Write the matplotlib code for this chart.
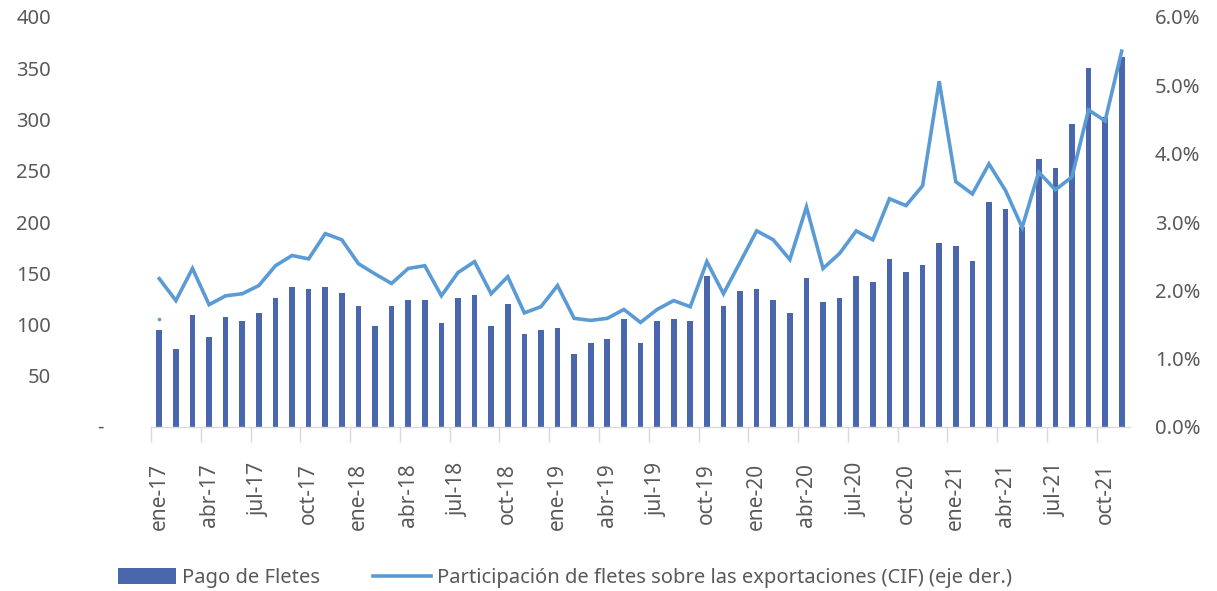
import matplotlib
matplotlib.use("Agg")
import matplotlib.pyplot as plt
import numpy as np

plt.rcParams['font.family'] = ['Noto Sans', 'DejaVu Sans']

meses = ["ene", "feb", "mar", "abr", "may", "jun", "jul", "ago", "sep", "oct", "nov", "dic"]
categorias = [f"{m}-{a}" for a in range(17, 22) for m in meses][:59]

pago_fletes = [
    94.6, 75.8, 109.6, 88.1, 107.3, 103.1, 111.5, 126.1, 136.9, 134.6, 136.9, 130.4,
    118.0, 98.8, 118.0, 124.2, 124.2, 101.2, 126.1, 128.5, 98.8, 120.0, 90.4, 94.6,
    96.6, 71.2, 82.0, 86.2, 105.1, 82.0, 103.1, 105.1, 103.1, 147.3, 118.0, 132.7,
    134.6, 123.9, 111.5, 145.4, 122.0, 126.1, 147.3, 141.2, 164.2, 151.5, 158.0, 179.2,
    176.9, 162.0, 219.2, 212.7, 195.4, 261.5, 253.0, 295.3, 350.0, 302.7, 360.7,
]

participacion = [
    2.17, 1.85, 2.32, 1.79, 1.92, 1.95, 2.07, 2.36, 2.51, 2.46, 2.83, 2.74,
    2.39, 2.24, 2.10, 2.32, 2.36, 1.92, 2.26, 2.42, 1.95, 2.20, 1.67, 1.76,
    2.07, 1.59, 1.56, 1.59, 1.72, 1.53, 1.72, 1.85, 1.76, 2.42, 1.95, 2.41,
    2.87, 2.74, 2.45, 3.22, 2.32, 2.54, 2.87, 2.74, 3.34, 3.24, 3.53, 5.06,
    3.59, 3.41, 3.85, 3.46, 2.92, 3.73, 3.47, 3.66, 4.64, 4.48, 5.50,
]

punto_aislado = [105.4]  # small stray marker above the first bar

izq_ticks = [0, 50, 100, 150, 200, 250, 300, 350, 400]
der_ticks = [0, 1, 2, 3, 4, 5, 6]

c_bar = "#4A66AC"
c_line = "#5B9BD5"
c_txt = "#595959"
c_axis = "#D9D9D9"

fig = plt.figure(figsize=(12.17, 5.91), dpi=100)
ax = fig.add_axes([151/1217, 1 - 427/591, (1130 - 151)/1217, (427 - 17)/591])
ax2 = ax.twinx()

x = np.arange(len(categorias))
ax.bar(x, pago_fletes, width=0.34, color=c_bar, zorder=2, label="Pago de Fletes")
ax.plot([x[0]], punto_aislado, marker='o', markersize=1.6, color=c_line, linestyle='none')
ax2.plot(x, participacion, color=c_line, linewidth=2.6, solid_joinstyle='miter',
         label="Participación de fletes sobre las exportaciones (CIF) (eje der.)")

ax.set_xlim(-0.5, len(categorias) - 0.5)
ax.set_ylim(0, 400)
ax2.set_ylim(0, 6)

for a in (ax, ax2):
    for s in a.spines.values():
        s.set_visible(False)
ax.spines['bottom'].set_visible(True)
ax.spines['bottom'].set_color(c_axis)
ax.spines['bottom'].set_linewidth(1.0)

# y-axes
ax.set_yticks(izq_ticks)
ax.set_yticklabels([("" if v == 0 else f"{v}") for v in izq_ticks])
ax.tick_params(axis='y', length=0, pad=72, labelsize=14.5, labelcolor=c_txt)
fig.text(100/1217, 1 - 428/591, "-", ha='center', va='center', fontsize=14.5, color=c_txt)

ax2.set_yticks(der_ticks)
ax2.set_yticklabels([f"{v:.1f}%" for v in der_ticks])
ax2.tick_params(axis='y', length=0, pad=18, labelsize=14.5, labelcolor=c_txt)

# x-axis: label every 3 months, ticks at category boundaries
ax.set_xticks(x[::3])
ax.set_xticklabels(categorias[::3], rotation=90, fontsize=15, color=c_txt, va='top', ha='center')
ax.set_xticks(np.arange(-0.5, len(categorias) - 0.5, 3), minor=True)
ax.tick_params(axis='x', which='major', length=0, pad=26)
ax.tick_params(axis='x', which='minor', length=11, color=c_axis, width=1.0)

# legend
h1, l1 = ax.get_legend_handles_labels()
h2, l2 = ax2.get_legend_handles_labels()
leg = fig.legend(h1 + h2, l1 + l2, loc='center left', bbox_to_anchor=(118/1217, 1 - 578/591),
                 ncol=2, frameon=False, fontsize=14.5, handlelength=2.9, handleheight=0.8,
                 handletextpad=0.3, columnspacing=2.6, borderaxespad=0, borderpad=0)
for t in leg.get_texts():
    t.set_color(c_txt)

fig.savefig("out.png", dpi=100)
